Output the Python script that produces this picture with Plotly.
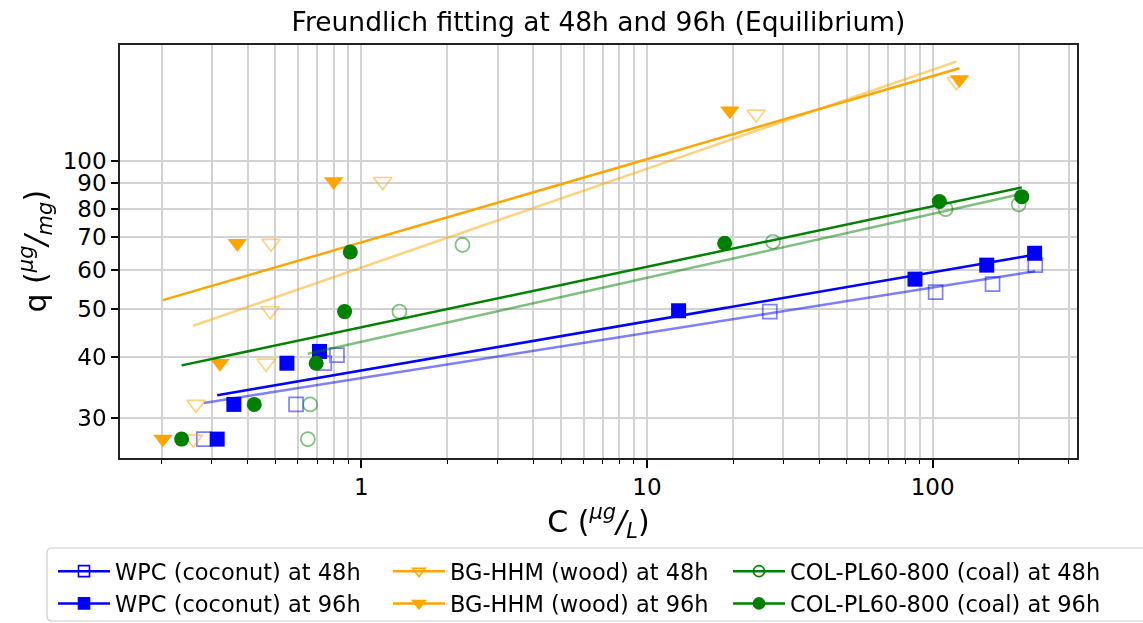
import numpy as np
import plotly.graph_objects as go

# Equilibrium concentration C (µg/L) and adsorbed amount q (µg/mg)
wpc_48_c = [0.281, 0.591, 0.742, 0.822, 26.9, 102.4, 162.0, 228.6]
wpc_48_q = [27.2, 32.0, 38.8, 40.3, 49.4, 54.1, 56.2, 61.4]
wpc_96_c = [0.313, 0.358, 0.549, 0.714, 12.9, 86.7, 154.6, 227.4]
wpc_96_q = [27.2, 32.0, 38.8, 41.0, 49.6, 57.5, 61.4, 64.9]

bg_48_c = [0.258, 0.264, 0.464, 0.480, 0.483, 1.188, 24.1, 121.0]
bg_48_q = [27.2, 32.0, 38.8, 49.6, 68.0, 90.8, 124.5, 145.0]
bg_96_c = [0.202, 0.320, 0.368, 0.800, 19.5, 124.1]
bg_96_q = [27.2, 38.8, 68.0, 90.8, 126.4, 146.3]

col_48_c = [0.650, 0.662, 1.36, 2.26, 27.6, 111.0, 200.0]
col_48_q = [27.2, 32.0, 49.4, 67.5, 68.5, 79.8, 81.6]
col_96_c = [0.235, 0.422, 0.695, 0.874, 0.915, 18.7, 105.5, 205.0]
col_96_q = [27.2, 32.0, 38.8, 49.4, 65.3, 68.0, 82.7, 84.6]

# Freundlich parameters q = Kf * C^(1/n), same order as the series below
kf = [36.2, 37.5, 60.7, 68.3, 42.9, 45.9]
inv_n = [0.092, 0.0998, 0.201, 0.169, 0.130, 0.123]

names = [
    "WPC (coconut) at 48h", "WPC (coconut) at 96h",
    "BG-HHM (wood) at 48h", "BG-HHM (wood) at 96h",
    "COL-PL60-800 (coal) at 48h", "COL-PL60-800 (coal) at 96h",
]
series_c = [wpc_48_c, wpc_96_c, bg_48_c, bg_96_c, col_48_c, col_96_c]
series_q = [wpc_48_q, wpc_96_q, bg_48_q, bg_96_q, col_48_q, col_96_q]
colors = ["#0000ff", "#0000ff", "#ffa500", "#ffa500", "#008000", "#008000"]
symbols = ["square-open", "square", "triangle-down-open", "triangle-down",
           "circle-open", "circle"]
sizes = [14, 15, 16, 17, 14, 15]
alphas = [0.5, 1.0, 0.5, 1.0, 0.5, 1.0]
legend_ids = ["legend", "legend", "legend2", "legend2", "legend3", "legend3"]

x_major = [1, 10, 100]
x_minor = [m * 10.0 ** e for e in (-1, 0, 1, 2) for m in range(2, 10)]
x_minor = [v for v in x_minor if 0.14 < v < 320]
y_ticks = [30, 40, 50, 60, 70, 80, 90, 100]

FONT = "DejaVu Sans"
GRID = "#d3d3d3"
LINE_W = 2.5

W, H = 1143, 623
PLOT_L, PLOT_R, PLOT_T, PLOT_B = 120, 1077, 45, 458
plot_w = PLOT_R - PLOT_L
plot_h = PLOT_B - PLOT_T


def px(x):
    return (x - PLOT_L) / plot_w


def py(y):
    return (PLOT_B - y) / plot_h


fig = go.Figure()

for i in range(6):
    c = np.array(series_c[i])
    q = np.array(series_q[i])
    open_marker = symbols[i].endswith("open")
    fig.add_trace(go.Scatter(
        x=c, y=q, mode="markers", showlegend=False, opacity=alphas[i],
        marker=dict(symbol=symbols[i], size=sizes[i], color=colors[i],
                    line=dict(color=colors[i], width=1.7 if open_marker else 0)),
        hoverinfo="x+y", name=names[i],
    ))
    c_fit = np.array([c.min(), c.max()])
    q_fit = kf[i] * c_fit ** inv_n[i]
    fig.add_trace(go.Scatter(
        x=c_fit, y=q_fit, mode="lines", showlegend=False, opacity=alphas[i],
        line=dict(color=colors[i], width=LINE_W), hoverinfo="skip",
    ))

# legend entries: one small legend per adsorbent column
for i in range(6):
    fig.add_trace(go.Scatter(
        x=[None], y=[None], mode="lines+markers", name=names[i],
        legend=legend_ids[i],
        line=dict(color=colors[i], width=LINE_W),
        marker=dict(symbol=symbols[i], size=11, color=colors[i],
                    line=dict(color=colors[i], width=1.6)),
    ))

legend_style = dict(
    orientation="v", xref="container", xanchor="left",
    y=1 - 550 / H, yref="container", yanchor="top",
    itemwidth=52, borderwidth=0, bgcolor="rgba(0,0,0,0)",
    font=dict(size=22.5, family=FONT), tracegroupgap=0,
)

# rounded frame around the three legend columns
bx0, bx1, by0, by1, r = 47, 1160, 548, 621, 5
frame_path = (
    f"M {px(bx0 + r)},{py(by0)} L {px(bx1 - r)},{py(by0)} "
    f"Q {px(bx1)},{py(by0)} {px(bx1)},{py(by0 + r)} "
    f"L {px(bx1)},{py(by1 - r)} Q {px(bx1)},{py(by1)} {px(bx1 - r)},{py(by1)} "
    f"L {px(bx0 + r)},{py(by1)} Q {px(bx0)},{py(by1)} {px(bx0)},{py(by1 - r)} "
    f"L {px(bx0)},{py(by0 + r)} Q {px(bx0)},{py(by0)} {px(bx0 + r)},{py(by0)} Z"
)

fig.update_layout(
    width=W, height=H,
    margin=dict(l=PLOT_L, r=W - PLOT_R, t=PLOT_T, b=H - PLOT_B, autoexpand=False),
    paper_bgcolor="white", plot_bgcolor="white",
    font=dict(family=FONT, color="black", size=22),
    title=dict(text="Freundlich fitting at 48h and 96h (Equilibrium)",
               x=0.5, xref="paper", xanchor="center",
               y=1 - 22 / H, yref="container", yanchor="middle",
               font=dict(size=26.5, family=FONT)),
    legend=dict(legend_style, x=53 / W),
    legend2=dict(legend_style, x=388 / W),
    legend3=dict(legend_style, x=728 / W),
    shapes=[dict(type="path", path=frame_path, xref="paper", yref="paper",
                 line=dict(color="#cccccc", width=1.2), layer="below")],
    annotations=[dict(text="q (<i><sup>μg</sup>/<sub>mg</sub></i>)",
                      textangle=-90, showarrow=False,
                      xref="paper", yref="paper", x=px(36), y=0.5,
                      xanchor="center", yanchor="middle",
                      font=dict(size=30, family=FONT, color="black"))],
    showlegend=True,
)

fig.update_xaxes(
    type="log", range=[np.log10(0.143), np.log10(320)],
    tickmode="array", tickvals=x_major, ticktext=[str(v) for v in x_major],
    ticks="outside", ticklen=8, tickwidth=1.5, tickcolor="black",
    showgrid=True, gridcolor=GRID, gridwidth=1.5,
    minor=dict(tickmode="array", tickvals=x_minor, ticks="outside", ticklen=4,
               tickwidth=1.2, tickcolor="black", showgrid=True,
               gridcolor=GRID, gridwidth=1.5),
    showline=True, linecolor="#222222", linewidth=1.6, mirror=True,
    zeroline=False, tickfont=dict(size=23),
    title=dict(text="C (<i><sup>μg</sup>/<sub>L</sub></i>)",
               font=dict(size=30), standoff=8),
)
fig.update_yaxes(
    type="log", range=[np.log10(24.9), np.log10(172)],
    tickmode="array", tickvals=y_ticks, ticktext=[str(v) for v in y_ticks],
    ticks="outside", ticklen=7, tickwidth=1.5, tickcolor="black",
    showgrid=True, gridcolor=GRID, gridwidth=1.5,
    showline=True, linecolor="#222222", linewidth=1.6, mirror=True,
    zeroline=False, tickfont=dict(size=23),
)

fig.write_html("out.html")
